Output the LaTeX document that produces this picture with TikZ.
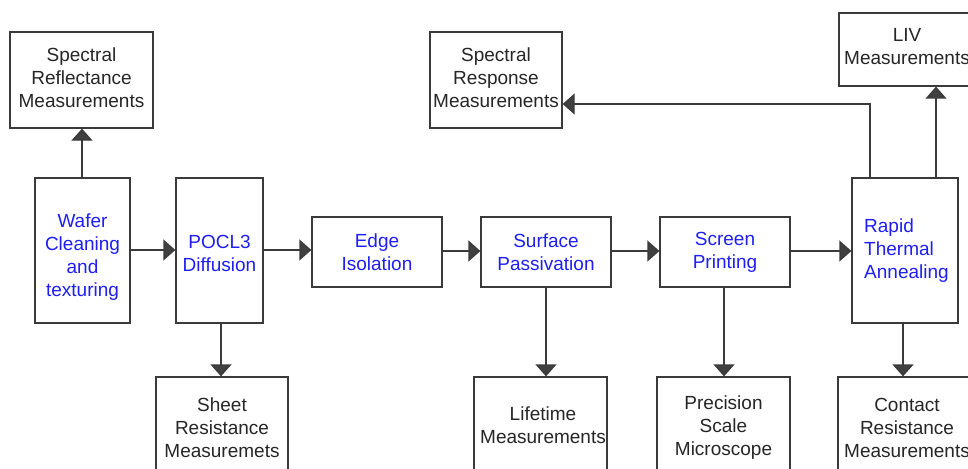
\documentclass[tikz,border=0pt]{standalone}
\usepackage{fontspec}
\setmainfont{Liberation Sans}
\usetikzlibrary{arrows.meta}
\definecolor{edgec}{RGB}{58,58,58}
\definecolor{tipc}{RGB}{64,64,64}
\definecolor{stepblue}{RGB}{30,30,245}
\begin{document}
\begin{tikzpicture}[x=1pt,y=-1pt,
  box/.style={draw=edgec,line width=1.3pt,fill=white,inner sep=0pt,rectangle},
  txt/.style={inner sep=0pt,align=center,font=\fontsize{19}{23}\selectfont,text=black!85},
  btxt/.style={txt,text=stepblue},
  conn/.style={draw=edgec,line width=1.3pt,-{Triangle[length=12pt,width=21pt,fill=tipc]}},
  plain/.style={draw=edgec,line width=1.3pt}]
\useasboundingbox (0,0) rectangle (968,468);
\clip (0,0) rectangle (968,468);
% boxes
\node[box,minimum width=143pt,minimum height=96pt] (refl) at (81.5,80) {};
\node[box,minimum width=95pt,minimum height=145pt] (wafer) at (82.5,250.5) {};
\node[box,minimum width=87pt,minimum height=145pt] (pocl) at (219.5,250.5) {};
\node[box,minimum width=130pt,minimum height=70pt] (edgeiso) at (377,252) {};
\node[box,minimum width=130pt,minimum height=70pt] (surf) at (546,252) {};
\node[box,minimum width=130pt,minimum height=70pt] (screen) at (725,252) {};
\node[box,minimum width=106pt,minimum height=145pt] (rta) at (905,250.5) {};
\node[box,minimum width=132pt,minimum height=96pt] (sheet) at (222,425) {};
\node[box,minimum width=133pt,minimum height=96pt] (life) at (540.5,425) {};
\node[box,minimum width=133pt,minimum height=96pt] (prec) at (723.5,425) {};
\node[box,minimum width=138pt,minimum height=96pt] (contact) at (907,425) {};
\node[box,minimum width=132pt,minimum height=96pt] (resp) at (496,80) {};
\node[box,minimum width=137pt,minimum height=73pt] (liv) at (907.5,49.5) {};
% texts
\node[txt] (reflT) at (81.5,77.5) {Spectral\\Reflectance\\Measurements};
\node[btxt] (waferT) at (82.5,257.5) {Wafer\\Cleaning\\and\\texturing};
\node[btxt] (poclT) at (219.5,253) {POCL3\\Diffusion};
\node[btxt] (edgeT) at (377,252.5) {Edge\\Isolation};
\node[btxt] (surfT) at (546,252.5) {Surface\\Passivation};
\node[btxt] (screenT) at (725,252.5) {Screen\\Printing};
\node[btxt,align=left,anchor=west] (rtaT) at (864,251) {Rapid\\Thermal\\Annealing};
\node[txt] (sheetT) at (222,428) {Sheet\\Resistance\\Measuremets};
\node[txt] (lifeT) at (543,425) {Lifetime\\Measurements};
\node[txt] (precT) at (723.5,428) {Precision\\Scale\\Microscope};
\node[txt] (contactT) at (907,428) {Contact\\Resistance\\Measurements};
\node[txt] (respT) at (496,77.5) {Spectral\\Response\\Measurements};
\node[txt] (livT) at (907,46.5) {LIV\\Measurements};
% connectors
\draw[conn] (wafer.north -| 82,0) -- (refl.south -| 82,0);
\draw[conn] (wafer.east |- 0,250) -- (pocl.west |- 0,250);
\draw[conn] (pocl.east |- 0,250) -- (edgeiso.west |- 0,250);
\draw[conn] (edgeiso.east |- 0,251) -- (surf.west |- 0,251);
\draw[conn] (surf.east |- 0,251) -- (screen.west |- 0,251);
\draw[conn] (screen.east |- 0,251) -- (rta.west |- 0,251);
\draw[conn] (pocl.south -| 221,0) -- (sheet.north -| 221,0);
\draw[conn] (surf.south) -- (surf.south |- life.north);
\draw[conn] (screen.south -| 724,0) -- (prec.north -| 724,0);
\draw[conn] (rta.south -| 903,0) -- (contact.north -| 903,0);
\draw[conn] (rta.north -| 936,0) -- (liv.south -| 936,0);
\draw[conn] (rta.north -| 870,0) |- (resp.east |- 0,104);
\end{tikzpicture}
\end{document}
